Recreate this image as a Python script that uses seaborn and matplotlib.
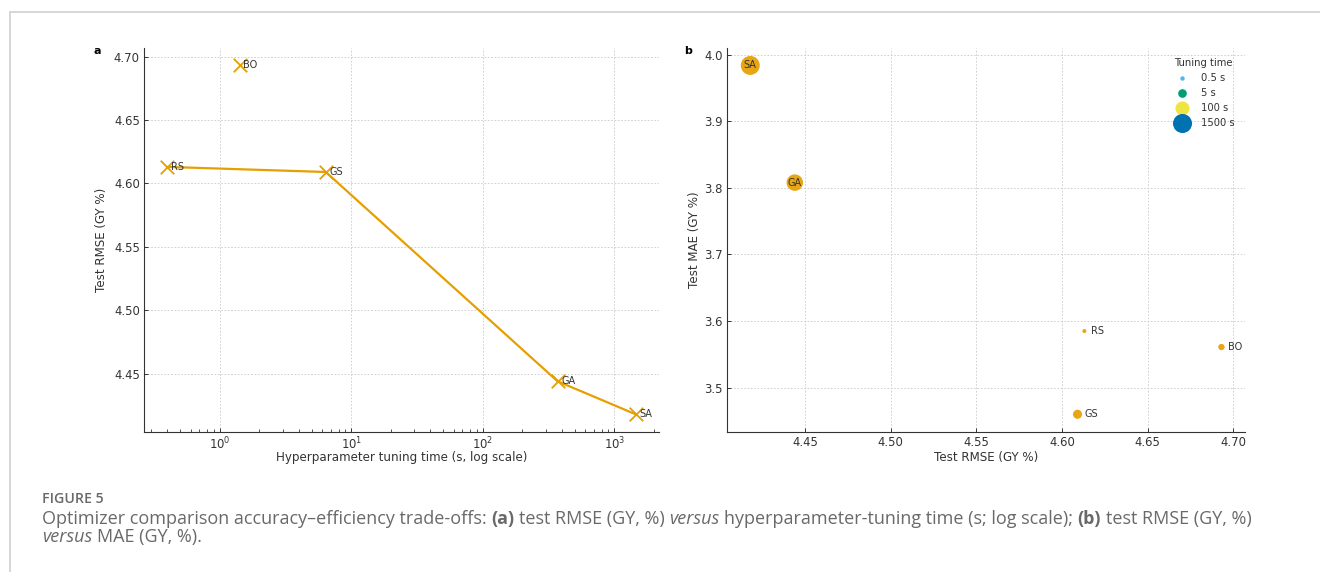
import numpy as np
import pandas as pd
import matplotlib
matplotlib.use("Agg")
import matplotlib.pyplot as plt
from matplotlib.lines import Line2D
from matplotlib.ticker import MultipleLocator
import seaborn as sns

# ---------------- data ----------------
optimizers = ["RS", "BO", "GS", "GA", "SA"]
tuning_time_s = [0.40, 1.42, 6.4, 370.0, 1450.0]
test_rmse = [4.613, 4.693, 4.609, 4.444, 4.418]
test_mae = [3.585, 3.561, 3.460, 3.808, 3.984]

legend_times = [0.5, 5, 100, 1500]
legend_labels = ["0.5 s", "5 s", "100 s", "1500 s"]
legend_colors = ["#56B4E9", "#009E73", "#F0E442", "#0072B2"]

xlabel_a = "Hyperparameter tuning time (s, log scale)"
ylabel_a = "Test RMSE (GY %)"
xlabel_b = "Test RMSE (GY %)"
ylabel_b = "Test MAE (GY %)"
legend_title = "Tuning time"
fig_title = "FIGURE 5"

ORANGE = "#E69F00"
TXT = "#333333"
CAP = "#696969"

df = pd.DataFrame({"optimizer": optimizers, "time": tuning_time_s,
                   "rmse": test_rmse, "mae": test_mae})

# Pareto front (faster and more accurate)
srt = df.sort_values("time")
front = srt[srt["rmse"] <= srt["rmse"].cummin()]


def diam_px(t):
    return 5.7 + 4.2 * np.log10(t)


df["area"] = (0.72 * diam_px(df["time"].values)) ** 2

# ---------------- style ----------------
sns.set_style("ticks", {"xtick.direction": "in", "ytick.direction": "in",
                        "axes.edgecolor": TXT, "axes.labelcolor": TXT,
                        "xtick.color": TXT, "ytick.color": TXT, "text.color": TXT})
plt.rcParams["font.family"] = ["DejaVu Sans"]
plt.rcParams["xtick.labelsize"] = 8.4
plt.rcParams["ytick.labelsize"] = 8.4
plt.rcParams["axes.labelsize"] = 8.6
plt.rcParams["axes.linewidth"] = 0.8

W, H = 1320, 572
fig = plt.figure(figsize=(W / 100, H / 100), dpi=100)


def rect(l, t, r, b):
    return [l / W, 1 - b / H, (r - l) / W, (b - t) / H]


ax_a = fig.add_axes(rect(144, 48, 659, 431.7))
ax_b = fig.add_axes(rect(726.7, 48, 1245, 431.7))

for ax in (ax_a, ax_b):
    ax.grid(True, which="major", linestyle=(0, (2, 2)), linewidth=0.6, color="#c9c9c9")
    ax.set_axisbelow(True)
    ax.tick_params(which="major", length=3, width=0.7, pad=3)
    ax.tick_params(which="minor", length=2, width=0.6)
    sns.despine(ax=ax)

# ---------------- panel a ----------------
ax_a.set_xscale("log")
sns.lineplot(data=front, x="time", y="rmse", ax=ax_a, color=ORANGE,
             linewidth=1.6, estimator=None, sort=True)
sns.scatterplot(data=df, x="time", y="rmse", ax=ax_a, marker="x", s=95,
                color=ORANGE, linewidth=1.3, zorder=3)
for _, r in df.iterrows():
    ax_a.annotate(r["optimizer"], (r["time"], r["rmse"]), xytext=(2.5, 0),
                  textcoords="offset points", ha="left", va="center",
                  fontsize=7, color=TXT)
ax_a.yaxis.set_major_locator(MultipleLocator(0.05))
ax_a.set_xlabel(xlabel_a, labelpad=-1.2)
ax_a.set_ylabel(ylabel_a, labelpad=4)

# ---------------- panel b ----------------
sns.scatterplot(data=df, x="rmse", y="mae", ax=ax_b, color=ORANGE,
                s=df["area"].values, linewidth=0, alpha=0.92, zorder=3)
for _, r in df.iterrows():
    if r["time"] >= 100:
        ax_b.annotate(r["optimizer"], (r["rmse"], r["mae"]), ha="center",
                      va="center", fontsize=7, color=TXT, zorder=4)
    else:
        ax_b.annotate(r["optimizer"], (r["rmse"], r["mae"]), xytext=(5, 0),
                      textcoords="offset points", ha="left", va="center",
                      fontsize=7, color=TXT)
ax_b.xaxis.set_major_locator(MultipleLocator(0.05))
ax_b.yaxis.set_major_locator(MultipleLocator(0.1))
ax_b.set_xlabel(xlabel_b, labelpad=1.3)
ax_b.set_ylabel(ylabel_b, labelpad=2)

handles = [Line2D([], [], linestyle="", marker="o", markersize=0.72 * diam_px(t),
                  markerfacecolor=c, markeredgewidth=0, color=c)
           for t, c in zip(legend_times, legend_colors)]
leg = ax_b.legend(handles, legend_labels, title=legend_title, loc="upper right",
                  frameon=False, fontsize=7.2, title_fontsize=7.2, labelspacing=0.5,
                  borderaxespad=0.62, handletextpad=0.9)
for t in leg.get_texts():
    t.set_color(TXT)
leg.get_title().set_color(TXT)

# panel letters
fig.text(97 / W, 1 - 51 / H, "a", fontsize=8, fontweight="bold", ha="center", va="center", color="black")
fig.text(688 / W, 1 - 51 / H, "b", fontsize=8, fontweight="bold", ha="center", va="center", color="black")

# outer frame of the figure box
fig.add_artist(Line2D([9.5 / W, 9.5 / W], [0, 1 - 11.5 / H], transform=fig.transFigure,
                      color="#cfcfcf", linewidth=1.2))
fig.add_artist(Line2D([9.5 / W, 1], [1 - 11.5 / H, 1 - 11.5 / H], transform=fig.transFigure,
                      color="#cfcfcf", linewidth=1.2))

# ---------------- caption ----------------
renderer = fig.canvas.get_renderer()
CAP_FAMILY = ["Open Sans", "DejaVu Sans"]

line1 = [("Optimizer comparison accuracy\u2013efficiency trade-offs:", "normal", "normal"),
         ("(a)", "normal", "bold"),
         ("test RMSE (GY, %)", "normal", "normal"),
         ("versus", "italic", "normal"),
         ("hyperparameter-tuning time (s; log scale);", "normal", "normal"),
         ("(b)", "normal", "bold"),
         ("test RMSE (GY, %)", "normal", "normal")]
line2 = [("versus", "italic", "normal"),
         ("MAE (GY, %).", "normal", "normal")]


def width_of(s, size, style="normal", weight="normal"):
    t = fig.text(0, 0, s, fontsize=size, family=CAP_FAMILY, style=style, fontweight=weight)
    w = t.get_window_extent(renderer).width
    t.remove()
    return w


def draw_line(pieces, x0, y_base, size, draw=True):
    sp = width_of("a a", size) - width_of("aa", size)
    x = x0
    for i, (s, style, weight) in enumerate(pieces):
        if i > 0:
            x += sp
        t = fig.text(x / W, 1 - y_base / H, s, fontsize=size, family=CAP_FAMILY,
                     style=style, fontweight=weight, color=CAP, ha="left", va="baseline")
        x += t.get_window_extent(renderer).width
        if not draw:
            t.remove()
    return x - x0


target = 1258 - 41.7
w0 = draw_line(line1, 41.7, 524, 11.0, draw=False)
cap_size = 11.0 * target / w0
draw_line(line1, 41.7, 524, cap_size)
draw_line(line2, 41.7, 542, cap_size)
fig.text(41.7 / W, 1 - 503 / H, fig_title, fontsize=10.2, family=CAP_FAMILY,
         fontweight="semibold", color=CAP, ha="left", va="baseline")

fig.savefig("out.png", dpi=100)
